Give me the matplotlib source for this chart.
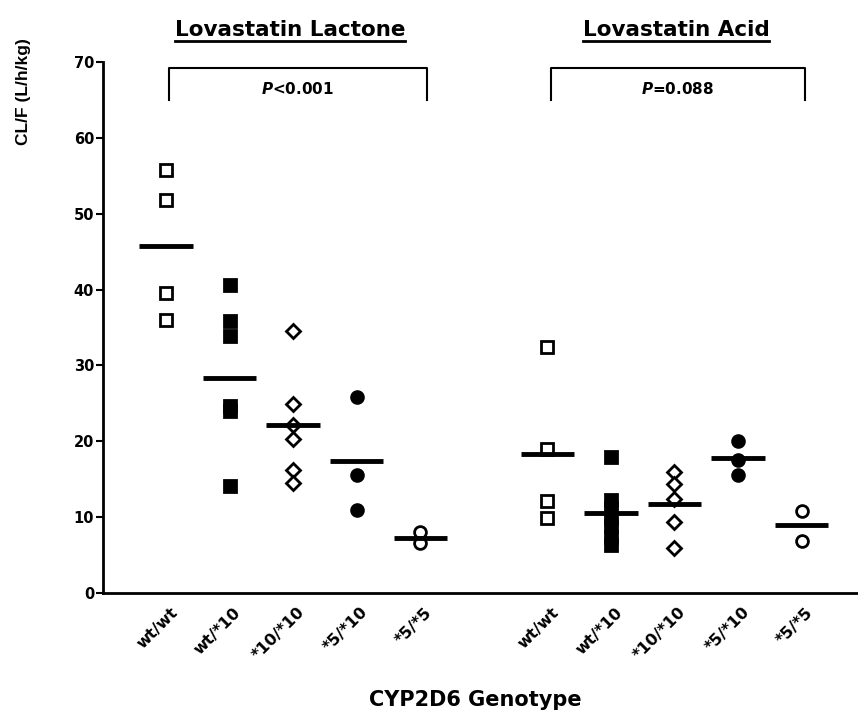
import matplotlib
matplotlib.use("Agg")
import matplotlib.pyplot as plt
import matplotlib.transforms as mtransforms
from matplotlib.lines import Line2D

plt.rcParams['font.family'] = ['Liberation Sans', 'DejaVu Sans']
plt.rcParams['mathtext.fontset'] = 'custom'
plt.rcParams['mathtext.it'] = 'DejaVu Sans:bold:italic'
plt.rcParams['mathtext.rm'] = 'DejaVu Sans:bold'

# genotype groups, two panels (lactone, acid)
genotypes = ['wt/wt', 'wt/*10', '*10/*10', '*5/*10', '*5/*5']
positions = [1, 2, 3, 4, 5, 7, 8, 9, 10, 11]
tick_labels = genotypes + genotypes

lactone = [
    [55.8, 51.8, 39.5, 36.0],
    [40.6, 35.8, 33.9, 24.6, 24.0, 14.1],
    [34.5, 24.9, 22.1, 20.3, 16.2, 14.5],
    [25.9, 15.5, 10.9],
    [8.1, 6.6],
]
acid = [
    [32.4, 19.0, 12.1, 9.9],
    [17.9, 12.3, 11.2, 9.9, 8.8, 7.4, 6.3],
    [16.0, 14.4, 12.4, 9.4, 5.9],
    [20.0, 17.5, 15.6],
    [10.8, 6.9],
]
means_lactone = [45.8, 28.4, 22.1, 17.4, 7.25]
means_acid = [18.3, 10.5, 11.7, 17.75, 8.9]

titles = ['Lovastatin Lactone', 'Lovastatin Acid']
pvals = ['$P$<0.001', '$P$=0.088']

# marker style per genotype: (marker, filled)
styles = [('s', False), ('s', True), ('D', False), ('o', True), ('o', False)]

fig = plt.figure(figsize=(8.58, 7.13), dpi=100)
ax = fig.add_axes([102.5 / 858, 120 / 713, 755 / 858, 531 / 713])

groups = lactone + acid
means = means_lactone + means_acid
for i, (x, vals, m) in enumerate(zip(positions, groups, means)):
    mk, filled = styles[i % 5]
    ms = 7.5 if mk == 'D' else 8.5
    ax.plot([x] * len(vals), vals, linestyle='none', marker=mk, markersize=ms,
            markerfacecolor='black' if filled else 'white',
            markeredgecolor='black', markeredgewidth=2, zorder=3)
    ax.hlines(m, x - 0.42, x + 0.42, color='black', linewidth=3.5, zorder=4)

ax.set_xlim(0, 11.88)
ax.set_ylim(0, 70)
ax.set_yticks(range(0, 71, 10))
ax.set_xticks(positions)
ax.set_xticklabels([])
for lab in ax.get_yticklabels():
    lab.set_fontweight('bold')
    lab.set_family('DejaVu Sans')
ax.tick_params(axis='y', labelsize=10.5, length=5, width=1.5, pad=1)
ax.tick_params(axis='x', length=0)
for s in ['top', 'right']:
    ax.spines[s].set_visible(False)
ax.spines['left'].set_linewidth(2)
ax.spines['bottom'].set_linewidth(2)

# rotated genotype labels, shifted a little right of each tick
lab_tr = ax.get_xaxis_transform() + mtransforms.ScaledTranslation(
    9 / 100, -17 / 100, fig.dpi_scale_trans)
for x, lab in zip(positions, tick_labels):
    ax.text(x, 0, lab, transform=lab_tr, rotation=45, ha='right', va='center',
            rotation_mode='anchor', fontsize=11.5, fontweight='bold',
            family='DejaVu Sans')

ax.set_ylabel('CL/F (L/h/kg)', fontsize=12.5, fontweight='bold')
ax.yaxis.set_label_coords(-0.095, 0.945)
fig.text(475 / 858, 1 - 700 / 713, 'CYP2D6 Genotype', ha='center', va='center',
         fontsize=15, fontweight='bold', family='DejaVu Sans')

# significance brackets
for (x0, x1), p in zip([(1.05, 5.1), (7.05, 11.06)], pvals):
    ax.plot([x0, x0, x1, x1], [65.0, 69.2, 69.2, 65.0], color='black',
            linewidth=1.5, clip_on=False)
    ax.text((x0 + x1) / 2, 66.4, p, ha='center', va='center', fontsize=11,
            fontweight='bold', family='DejaVu Sans')

# underlined panel titles
title_x = [290 / 858, 676 / 858]
txts = []
for tx, t in zip(title_x, titles):
    txts.append(fig.text(tx, 1 - 30 / 713, t, ha='center', va='center',
                         fontsize=15.5, fontweight='bold', family='DejaVu Sans'))
fig.canvas.draw()
r = fig.canvas.get_renderer()
for t in txts:
    bb = t.get_window_extent(r).transformed(fig.transFigure.inverted())
    fig.add_artist(Line2D([bb.x0, bb.x1], [bb.y0 - 0.002, bb.y0 - 0.002],
                          color='black', linewidth=2, transform=fig.transFigure))

fig.savefig('out.png', dpi=100)
